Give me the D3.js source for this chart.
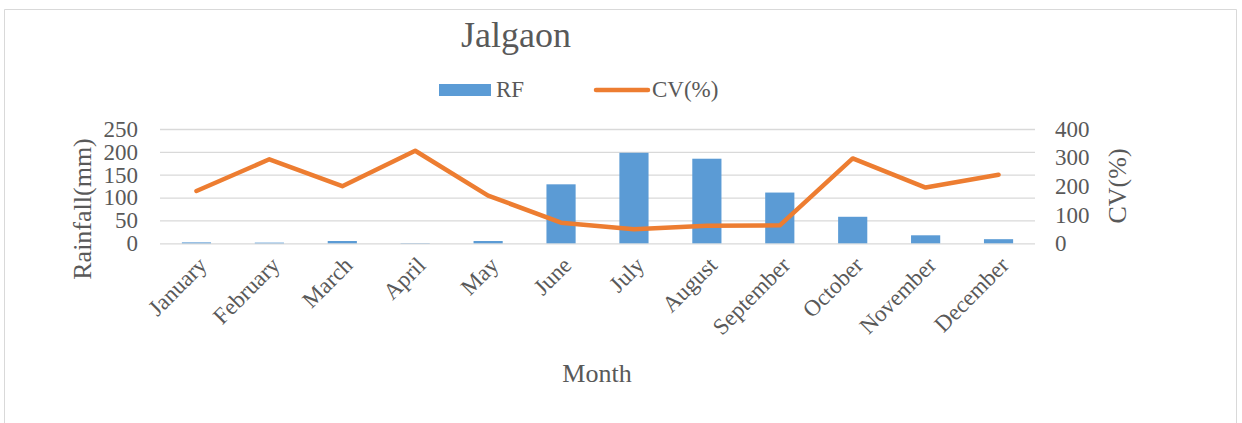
<!DOCTYPE html>
<html lang="en">
  <head>
    <meta charset="utf-8">
    <title>Jalgaon</title>
    <script src="https://d3js.org/d3.v7.min.js"></script>
    <style>
      body { margin: 0; background: #fff; }
      text { font-family: "Liberation Serif", "Times New Roman", serif; fill: #595959; }
    </style>
  </head>
  <body>
    <script type="text/javascript">
      // data
      var months = ["January", "February", "March", "April", "May", "June",
                    "July", "August", "September", "October", "November", "December"];
      var rainfall = [2, 1.5, 5, 0.5, 5, 129, 198, 185, 111, 58, 17.5, 9];
      var cv = [183, 294, 200, 324, 167, 72, 49, 61, 63, 297, 195, 240];
      var leftTicks = [0, 50, 100, 150, 200, 250];
      var rightTicks = [0, 100, 200, 300, 400];

      var w = 1242;
      var h = 423;
      var plotLeft = 160, plotRight = 1035, plotTop = 129, plotBottom = 243.3;

      var svg = d3.select("body")
                  .append("svg")
                  .attr("width", w)
                  .attr("height", h);

      // chart frame (bottom edge is cut off in the picture)
      svg.append("path")
         .attr("d", "M4.5," + h + "V9.5H1236.5V" + h)
         .attr("fill", "none")
         .attr("stroke", "#d9d9d9")
         .attr("stroke-width", 1);

      var x = d3.scaleBand()
                .domain(months)
                .range([plotLeft, plotRight]);

      var yLeft = d3.scaleLinear()
                    .domain([0, 250])
                    .range([plotBottom, plotTop]);

      var yRight = d3.scaleLinear()
                     .domain([0, 400])
                     .range([plotBottom, plotTop]);

      // gridlines from the left axis
      svg.append("g")
         .attr("transform", "translate(" + plotLeft + ",0)")
         .call(d3.axisLeft(yLeft).tickValues(leftTicks).tickSize(-(plotRight - plotLeft)).tickFormat(""))
         .call(function(g) {
           g.select(".domain").remove();
           g.selectAll("line").attr("stroke", "#d9d9d9").attr("stroke-width", 1.3);
         });

      // left tick labels
      svg.append("g")
         .attr("transform", "translate(" + plotLeft + ",0)")
         .call(d3.axisLeft(yLeft).tickValues(leftTicks).tickSize(0).tickPadding(22))
         .call(function(g) {
           g.select(".domain").remove();
           g.selectAll("text").attr("font-size", 23).attr("font-family", null).attr("fill", "#595959");
         });

      // right tick labels
      svg.append("g")
         .attr("transform", "translate(" + plotRight + ",0)")
         .call(d3.axisRight(yRight).tickValues(rightTicks).tickSize(0).tickPadding(20))
         .call(function(g) {
           g.select(".domain").remove();
           g.selectAll("text").attr("font-size", 23).attr("font-family", null).attr("fill", "#595959");
         });

      // bars
      var barW = x.bandwidth() / 2.5;
      svg.selectAll(".bar")
         .data(rainfall)
         .enter()
         .append("rect")
         .attr("class", "bar")
         .attr("x", function(d, i) { return x(months[i]) + x.bandwidth() / 2 - barW / 2; })
         .attr("y", function(d) { return yLeft(d); })
         .attr("width", barW)
         .attr("height", function(d) { return plotBottom - yLeft(d); })
         .attr("fill", "#5b9bd5");

      // CV line
      var line = d3.line()
                   .x(function(d, i) { return x(months[i]) + x.bandwidth() / 2; })
                   .y(function(d) { return yRight(d); });

      svg.append("path")
         .datum(cv)
         .attr("d", line)
         .attr("fill", "none")
         .attr("stroke", "#ed7d31")
         .attr("stroke-width", 4.5)
         .attr("stroke-linejoin", "round")
         .attr("stroke-linecap", "round");

      // month labels, rotated
      svg.append("g")
         .selectAll("text")
         .data(months)
         .enter()
         .append("text")
         .attr("transform", function(d) {
           return "translate(" + (x(d) + x.bandwidth() / 2 + 6) + ",261) rotate(-45)";
         })
         .attr("text-anchor", "end")
         .attr("dy", "0.35em")
         .attr("font-size", 23)
         .text(function(d) { return d; });

      // titles
      svg.append("text")
         .attr("x", 516)
         .attr("y", 47)
         .attr("text-anchor", "middle")
         .attr("font-size", 36)
         .text("Jalgaon");

      svg.append("text")
         .attr("x", 597)
         .attr("y", 382)
         .attr("text-anchor", "middle")
         .attr("font-size", 26)
         .text("Month");

      svg.append("text")
         .attr("transform", "translate(91,209) rotate(-90)")
         .attr("text-anchor", "middle")
         .attr("font-size", 26)
         .text("Rainfall(mm)");

      svg.append("text")
         .attr("transform", "translate(1126,186) rotate(-90)")
         .attr("text-anchor", "middle")
         .attr("font-size", 26)
         .text("CV(%)");

      // legend
      var legend = svg.append("g");
      legend.append("rect")
            .attr("x", 439)
            .attr("y", 84)
            .attr("width", 52)
            .attr("height", 12)
            .attr("fill", "#5b9bd5");
      legend.append("text")
            .attr("x", 496)
            .attr("y", 97)
            .attr("font-size", 23)
            .text("RF");
      legend.append("line")
            .attr("x1", 596)
            .attr("x2", 648)
            .attr("y1", 90)
            .attr("y2", 90)
            .attr("stroke", "#ed7d31")
            .attr("stroke-width", 4.5)
            .attr("stroke-linecap", "round");
      legend.append("text")
            .attr("x", 652)
            .attr("y", 97)
            .attr("font-size", 23)
            .text("CV(%)");
    </script>
  </body>
</html>
